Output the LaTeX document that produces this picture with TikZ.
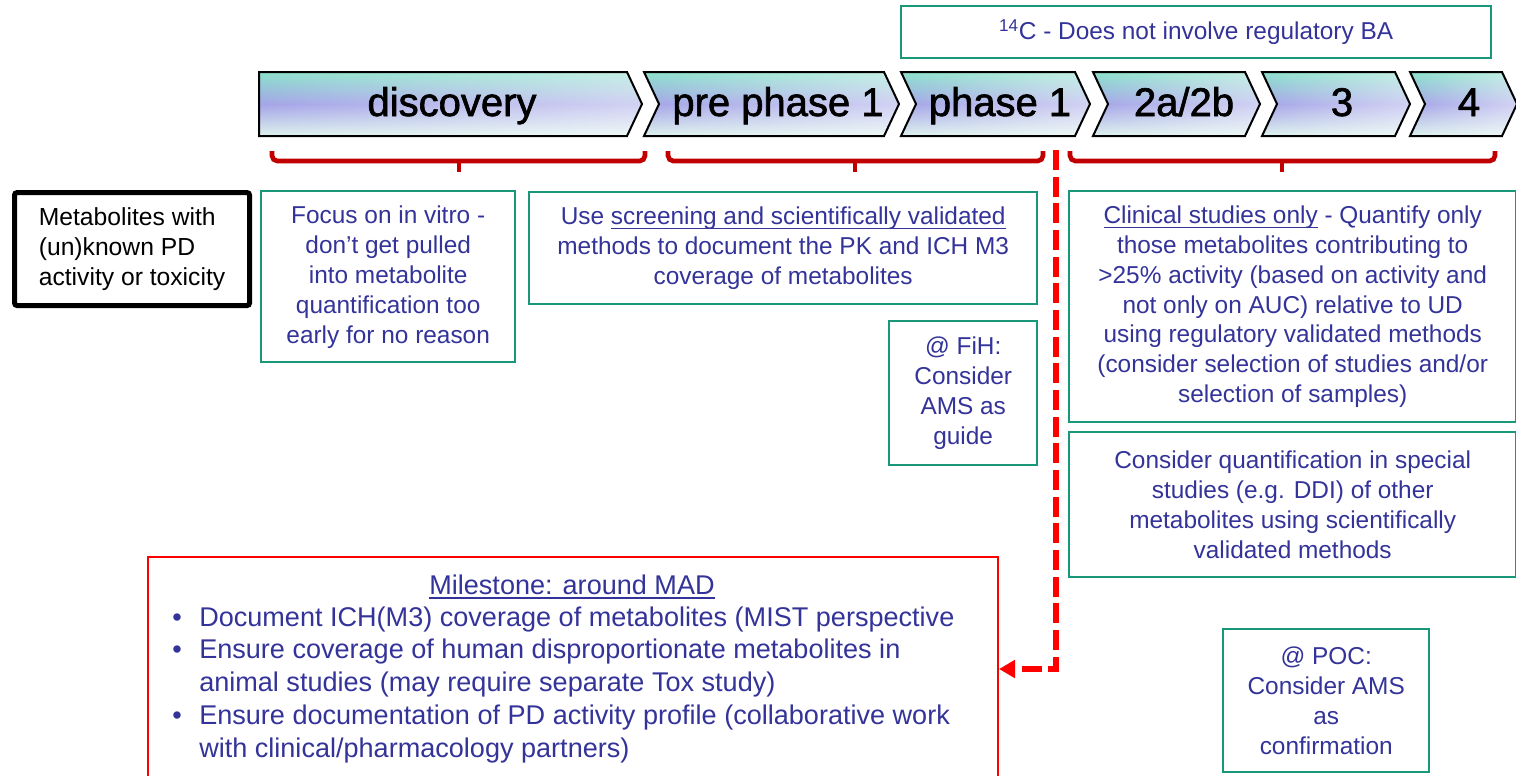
\documentclass[tikz,border=0pt]{standalone}
\usepackage{fontspec}
\setmainfont{Liberation Sans}
\newfontfamily\chevfont{Liberation Sans}[FakeBold=1.6]
\usetikzlibrary{arrows.meta,fadings}
\definecolor{txtblue}{RGB}{51,51,153}
\definecolor{boxgreen}{RGB}{24,152,120}
\definecolor{brkred}{RGB}{192,0,0}
\definecolor{dashred}{RGB}{255,0,0}
\definecolor{chevtop}{RGB}{140,226,204}
\definecolor{chevmid}{RGB}{165,165,232}
\definecolor{chevbot}{RGB}{222,243,238}
\tikzfading[name=fadeinright, left color=transparent!100, right color=transparent!0]
\newcommand\ulx[1]{\setbox0=\hbox{#1}\rlap{\rule[-3.4pt]{\wd0}{1.1pt}}\box0\relax}
\newcommand\px[1]{#1*0.75pt}
\newcommand\chevpath[1]{\shade[chevshade] #1; \fill[chevfade] #1; \draw[chevline] #1;}
\tikzset{
  gbox/.style={draw=boxgreen, line width=1.8pt, text=txtblue, align=center,
    font=\fontsize{18.3}{22.5}\selectfont, inner sep=0pt, anchor=north west},
  chevshade/.style={top color=chevtop, bottom color=chevbot, middle color=chevmid},
  chevfade/.style={white, fill opacity=0.5, path fading=fadeinright},
  chevline/.style={draw=black, line width=1.5pt, line join=miter},
  chevlabel/.style={font=\chevfont\fontsize{30}{36}\selectfont, anchor=base, inner sep=0pt},
  brk/.style={draw=brkred, line width=3.5pt, rounded corners=4pt},
  reddash/.style={draw=dashred, line width=4pt, dash pattern=on 15pt off 5pt},
  mtext/.style={text=txtblue, font=\fontsize{20.3}{24.75}\selectfont, inner sep=0pt, anchor=base west},
}
\begin{document}
\begin{tikzpicture}[x=0.75pt, y=-0.75pt]
\useasboundingbox (0,0) rectangle (1516,775);
\fill[white] (0,0) rectangle (1516,775);
\clip (0,0) rectangle (1516,775);

% top box
\node[gbox, minimum width=\px{590}, minimum height=\px{52}] (c14) at (900,5)
  {\textsuperscript{14}C - Does not involve regulatory BA};

% chevrons
\chevpath{(259,72) -- (627,72) -- (642,104) -- (627,136) -- (259,136) -- cycle}
\chevpath{(644,72) -- (884,72) -- (899,104) -- (884,136) -- (644,136) -- (659,104) -- cycle}
\chevpath{(901,72) -- (1075,72) -- (1090,104) -- (1075,136) -- (901,136) -- (916,104) -- cycle}
\chevpath{(1093,72) -- (1245,72) -- (1260,104) -- (1245,136) -- (1093,136) -- (1108,104) -- cycle}
\chevpath{(1262,72) -- (1395,72) -- (1410,104) -- (1395,136) -- (1262,136) -- (1277,104) -- cycle}
\chevpath{(1410,72) -- (1502,72) -- (1517,104) -- (1502,136) -- (1410,136) -- (1425,104) -- cycle}
\node[chevlabel] (discovery) at (452,116) {discovery};
\node[chevlabel] (prephase) at (778,116) {pre phase 1};
\node[chevlabel] (phaseone) at (1000,116) {phase 1};
\node[chevlabel] (phasetwo) at (1184,116) {2a/2b};
\node[chevlabel] (phasethree) at (1342,116) {3};
\node[chevlabel] (phasefour) at (1469,116) {4};

% brackets
\draw[brk] (272,151) -- (272,161) -- (645,161) -- (645,151);
\draw[brk, rounded corners=0pt] (459,161) -- (459,172);
\draw[brk] (668,151) -- (668,161) -- (1043,161) -- (1043,151);
\draw[brk, rounded corners=0pt] (855,161) -- (855,172);
\draw[brk] (1070,151) -- (1070,161) -- (1495,161) -- (1495,151);
\draw[brk, rounded corners=0pt] (1282,161) -- (1282,172);

% boxes
\node[draw=black, line width=3.8pt, rounded corners=2pt, align=left, inner sep=0pt,
  font=\fontsize{18.5}{22.5pt}\selectfont, anchor=north west,
  minimum width=\px{235}, minimum height=\px{113}] (metab) at (12,190)
  {Metabolites with\\(un)known PD\\activity or toxicity};

\node[gbox, minimum width=\px{254}, minimum height=\px{171}] (focus) at (260,190)
  {Focus on in vitro -\\don’t get pulled\\into metabolite\\quantification too\\early for no reason};

\node[gbox, minimum width=\px{508}, minimum height=\px{112}] (usebox) at (528,191)
  {Use \ulx{screening and scientifically validated}\\methods to document the PK and ICH M3\\coverage of metabolites};

\node[gbox, minimum width=\px{148}, minimum height=\px{144}] (fih) at (888,320)
  {@ FiH:\\Consider\\AMS as\\guide};

\node[gbox, minimum width=\px{447}, minimum height=\px{231}, font=\fontsize{18.3}{22.3pt}\selectfont] (clin) at (1068,190)
  {\ulx{Clinical studies only} - Quantify only\\those metabolites contributing to\\>25\% activity (based on activity and\\not only on AUC) relative to UD\\using regulatory validated methods\\(consider selection of studies and/or\\selection of samples)};

\node[gbox, minimum width=\px{447}, minimum height=\px{145}, font=\fontsize{18.3}{22.3pt}\selectfont] (cons) at (1068,431)
  {Consider quantification in special\\studies (e.g. DDI) of other\\metabolites using scientifically\\validated methods};

\node[gbox, minimum width=\px{206}, minimum height=\px{143}] (poc) at (1222,628)
  {@ POC:\\Consider AMS\\as\\confirmation};

% milestone
\node[draw=dashred, line width=1.5pt, inner sep=0pt, anchor=north west,
  minimum width=\px{850}, minimum height=\px{224}] (ms) at (147,556) {};
\node[mtext, anchor=base] (mstitle) at (572,594) {\ulx{Milestone: around MAD}};
\node[mtext] (bul1) at (172,626) {\textbullet};
\node[mtext] (bul2) at (172,658) {\textbullet};
\node[mtext] (bul3) at (172,724) {\textbullet};
\node[mtext] (l1) at (199,626) {Document ICH(M3) coverage of metabolites (MIST perspective};
\node[mtext] (l2) at (199,658) {Ensure coverage of human disproportionate metabolites in};
\node[mtext] (l3) at (199,691) {animal studies (may require separate Tox study)};
\node[mtext] (l4) at (199,724) {Ensure documentation of PD activity profile (collaborative work};
\node[mtext] (l5) at (199,757) {with clinical/pharmacology partners)};

% dashed arrow
\coordinate (dtop) at (1056,150);
\draw[reddash, -{Triangle[length=12pt, width=13pt]}] (dtop) |- (ms.east);
\end{tikzpicture}
\end{document}
